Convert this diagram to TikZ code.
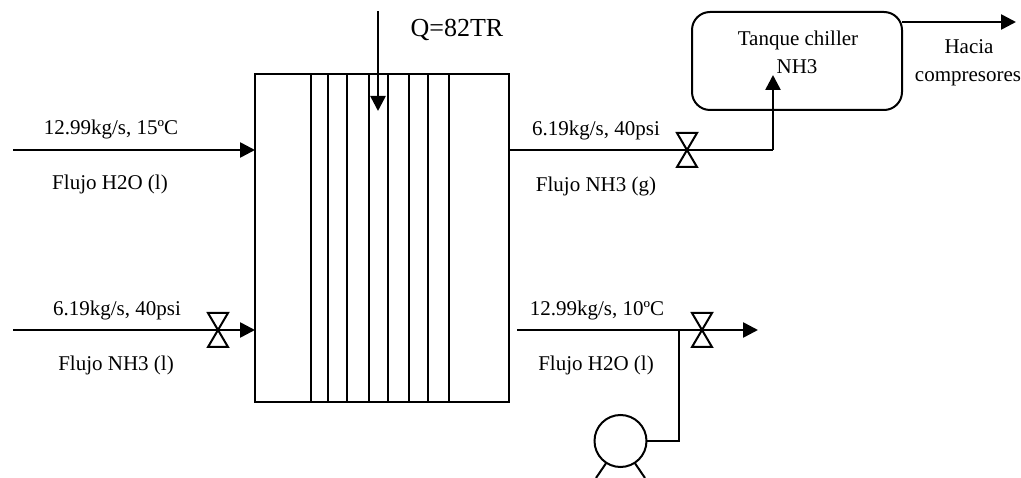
\documentclass[tikz,border=0pt]{standalone}
\usepackage{fontspec}
\setmainfont{Liberation Serif}
\usetikzlibrary{arrows.meta, positioning}

\begin{document}
\begin{tikzpicture}[
    x=1pt, y=-1pt,
    lbl/.style={inner sep=0pt, anchor=base, font=\fontsize{21}{25}\selectfont},
    unit/.style={draw, line width=2pt, inner sep=0pt, outer sep=0pt},
    valve/.style={minimum width=20pt, minimum height=34pt, inner sep=0pt, outer sep=0pt},
    pipe/.style={line width=2pt},
    arr/.style={-{Triangle[length=15pt, width=15pt]}, line width=2.6pt}
]
    \useasboundingbox (0,0) rectangle (1021,478);

    % equipment
    \node[unit, minimum width=254pt, minimum height=328pt] (hx) at (382,238) {};
    \node[unit, rounded corners=18pt, minimum width=210pt, minimum height=98pt] (tank) at (797,61) {};
    \node[unit, circle, minimum size=52pt] (pump) at (620.5,441) {};

    \foreach \x in {311, 328, 347, 369, 388, 409, 428, 449}
        \draw[pipe] (\x,0 |- hx.north) -- (\x,0 |- hx.south);

    % valves
    \node[valve] (vin) at (218,330) {};
    \node[valve] (vgas) at (687,150) {};
    \node[valve] (vout) at (702,330) {};
    \foreach \v in {vin, vgas, vout}
        \draw[pipe] (\v.north west) -- (\v.north east) -- (\v.south west) -- (\v.south east) -- cycle;

    % free ends of the lines
    \coordinate (qtop) at (378,11);
    \coordinate (qtip) at (378,111);
    \coordinate (waterin) at (13,150);
    \coordinate (ammoniain) at (13,330);
    \coordinate (waterout) at (517,330);
    \coordinate (watertip) at (758,330);
    \coordinate (gasstart) at (509,150);
    \coordinate (gasbend) at (773,150);
    \coordinate (gastip) at (773,75);
    \coordinate (tankout) at (902,22);
    \coordinate (comptip) at (1016,22);
    \coordinate (tee) at (679,330);
    \coordinate (legl) at (596,478);
    \coordinate (legr) at (645,478);

    % labels
    \node[lbl] (q) at (457,37) {\fontsize{26}{30}\selectfont Q=82TR};
    \node[lbl] (l1) at (111,135) {12.99kg/s, 15ºC};
    \node[lbl] (l2) at (110,190) {Flujo H2O (l)};
    \node[lbl] (l3) at (117,316) {6.19kg/s, 40psi};
    \node[lbl] (l4) at (116,371) {Flujo NH3 (l)};
    \node[lbl] (l5) at (596,136) {6.19kg/s, 40psi};
    \node[lbl] (l6) at (596,192) {Flujo NH3 (g)};
    \node[lbl] (l7) at (597,316) {12.99kg/s, 10ºC};
    \node[lbl] (l8) at (596,371) {Flujo H2O (l)};
    \node[lbl] (t1) at (798,46) {Tanque chiller};
    \node[lbl] (t2) at (797,74) {NH3};
    \node[lbl] (h1) at (969,54) {Hacia};
    \node[lbl] (h2) at (968,82) {compresores};

    \draw[arr] (qtop) -- (qtip);
    \draw[arr] (waterin) -- (hx.west |- waterin);
    \draw[arr] (ammoniain) -- (vin.center) -- (hx.west |- ammoniain);
    \draw[pipe] (gasstart) -- (vgas.center) -- (gasbend);
    \draw[arr] (gasbend) -- (gastip);
    \draw[arr] (tank.east |- tankout) -- (comptip);
    \draw[arr] (waterout) -- (vout.center) -- (watertip);
    \draw[pipe] (pump.east) -| (tee);
    \draw[pipe] (pump.-123) -- (legl);
    \draw[pipe] (pump.-57) -- (legr);
\end{tikzpicture}
\end{document}
